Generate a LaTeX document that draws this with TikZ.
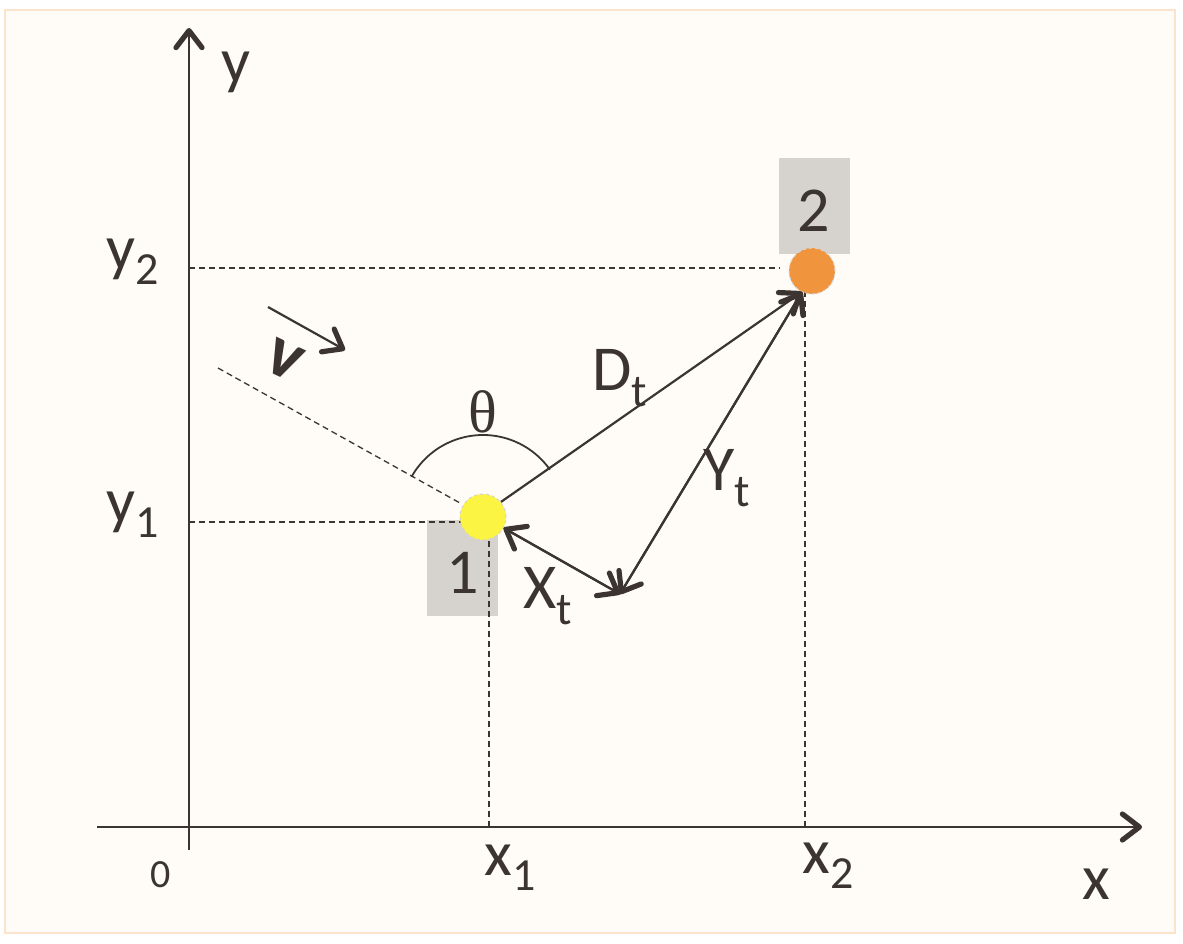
\documentclass[tikz,border=0pt]{standalone}
\usepackage{fontspec}
\setmainfont{Carlito}
\newfontfamily\grk{Liberation Serif}
\usetikzlibrary{arrows.meta}
\definecolor{ink}{HTML}{3B3430}
\definecolor{paper}{HTML}{FFFCF7}
\definecolor{frame}{HTML}{FCE3CC}
\definecolor{tag}{HTML}{D6D3CF}
\definecolor{sunny}{HTML}{FCF442}
\definecolor{amber}{HTML}{F0943E}
\newcommand{\idx}[2]{#1\raisebox{-0.24em}{\fontsize{46}{46}\selectfont #2}}

\begin{document}
\begin{tikzpicture}[x=1pt,y=1pt,
    every node/.style={text=ink,font=\fontsize{64}{64}\selectfont,inner sep=0pt},
    tip/.style={-{Straight Barb[length=17pt,width=26pt,line width=3pt 1,round]}},
    axis/.style={draw=ink,line width=2.2pt,tip},
    vec/.style={draw=ink,line width=2.2pt},
    guide/.style={draw=ink,line width=1.3pt,dash pattern=on 6pt off 4pt},
    tagbox/.style={fill=tag,minimum width=71pt,minimum height=96pt},
    dot/.style={circle,minimum size=46pt,draw=tag,dashed,line width=1pt}]
    \fill[white] (0,0) rectangle (1183,-943);
    \draw[frame,fill=paper,line width=2pt] (5,-10) rectangle (1175,-933);
    \node[tagbox] (box1) at (462.5,-568) {};
    \node[tagbox] (box2) at (814,-205.5) {};
    \node at (box1) [yshift=-5pt] {1};
    \node at (box2) [yshift=-5pt] {2};
    \coordinate (org) at (189,-827);
    \coordinate (ytop) at (189,-28);
    \coordinate (ybot) at (189,-850);
    \coordinate (xlft) at (97,-827);
    \coordinate (xrgt) at (1142,-827);
    \coordinate (y1) at (189,-522);
    \coordinate (y2) at (189,-268);
    \coordinate (x1) at (489,-827);
    \coordinate (x2) at (805,-827);
    \coordinate (foot) at (620,-594);
    \coordinate (far) at (218,-368);
    \draw[axis] (ybot) -- (ytop);
    \draw[axis] (xlft) -- (xrgt);
    \draw[guide] (y2) -- (780,-268);
    \draw[guide] (x2) -- (805,-290);
    \draw[guide] (y1) -- (470,-522);
    \draw[guide] (x1) -- (489,-540);
    \draw[guide] (far) -- (460,-503);
    \node[dot,fill=sunny] (p1) at (483,-517) {};
    \node[dot,fill=amber] (p2) at (812,-271) {};
    \draw[vec,tip] (p1.40) -- (802,-292) coordinate (hit);
    \draw[vec,tip] (hit) -- (foot);
    \draw[vec,tip] (foot) -- (hit);
    \draw[vec,tip] (foot) -- (p1.-28);
    \draw[vec,tip] (p1.-28) -- (foot);
    \draw[ink,line width=1.8pt] (p1.center) ++(150.7:82pt) arc[start angle=150.7,end angle=35.3,radius=82pt];
    \draw[vec,tip] (268,-307) coordinate (vs) -- (345,-350) coordinate (ve);
    \node[font=\fontsize{72}{72}\bfseries,rotate=-25] (v) at (284,-360) {v};
    \node[font=\fontsize{60}{60}\grk] (th) at (483,-412) {θ};
    \node (dt) at (620,-378) {\idx{D}{t}};
    \node (yt) at (727,-478) {\idx{Y}{t}};
    \node (xt) at (548,-596) {\idx{X}{t}};
    \node (ly) at (236,-72) {y};
    \node (lx) at (1096,-884) {x};
    \node[font=\fontsize{40}{40}\selectfont] (l0) at (161,-875) {0};
    \node (ly1) at (133,-515) {\idx{y}{1}};
    \node (ly2) at (133,-262) {\idx{y}{2}};
    \node (lx1) at (510,-868) {\idx{x}{1}};
    \node (lx2) at (828,-866) {\idx{x}{2}};
\end{tikzpicture}
\end{document}
